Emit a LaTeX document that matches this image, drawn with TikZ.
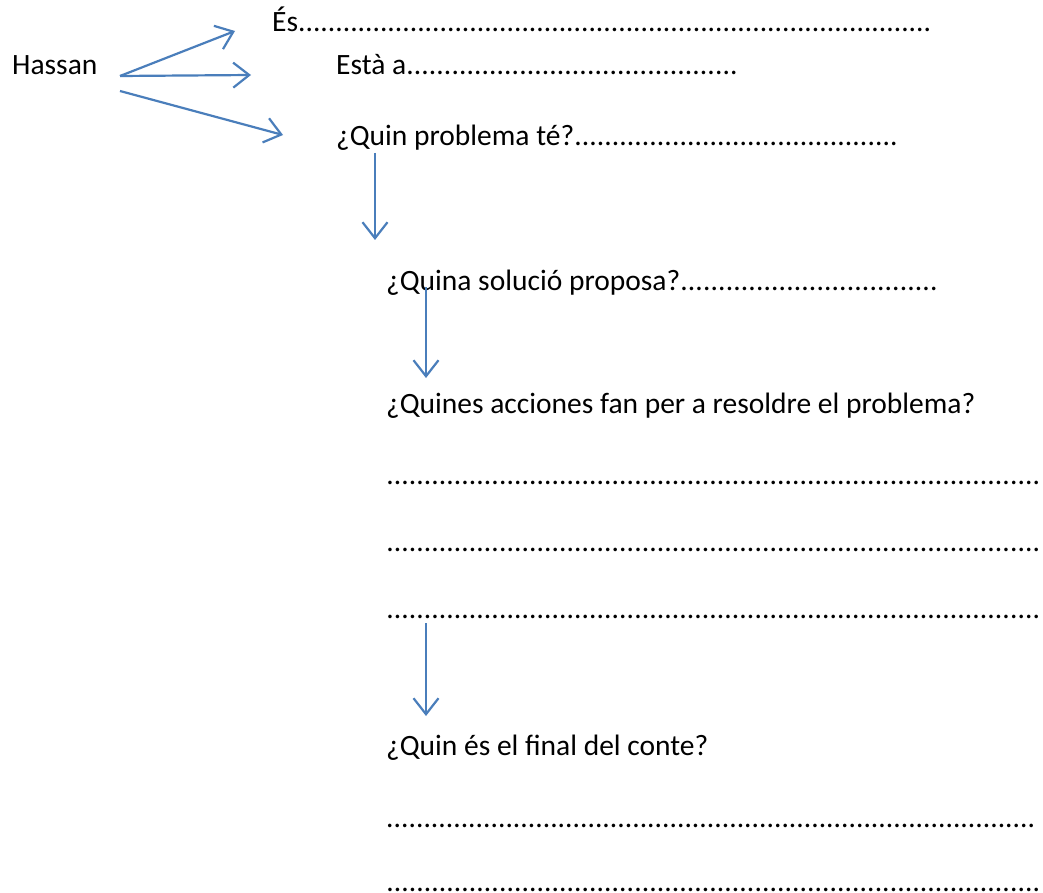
\documentclass[tikz,border=0pt]{standalone}
\usepackage{fontspec}
\setmainfont{Carlito}
\usetikzlibrary{arrows.meta}
\definecolor{arrowblue}{HTML}{4A7EBB}
\newcommand{\dotline}[2]{\hbox to #1{#2\xleaders\hbox{.}\hfill}}
\begin{document}
\begin{tikzpicture}[x=1pt,y=-1pt,
  txt/.style={anchor=base west,inner sep=0pt,font=\fontsize{29.5}{35}\selectfont},
  arr/.style={draw=arrowblue,line width=2.2pt,-{Straight Barb[length=16pt,width=25pt,line width=2.2pt]}}]
\useasboundingbox[fill=white] (0,0) rectangle (1043,893);
% texts
\node[txt] (hassan) at (12,75) {Hassan};
\node[txt] (es) at (272,32) {\dotline{660pt}{És}};
\node[txt] (esta) at (336,75) {\dotline{402pt}{Està a}};
\node[txt] (prob) at (336,146) {\dotline{562pt}{¿Quin problema té?}};
\node[txt] (sol) at (386,290) {\dotline{552pt}{¿Quina solució proposa?}};
\node[txt] (acc) at (386,413) {¿Quines acciones fan per a resoldre el problema?};
\node[txt] (l1) at (386,484) {\dotline{655pt}{}};
\node[txt] (l2) at (386,551) {\dotline{655pt}{}};
\node[txt] (l3) at (386,618) {\dotline{655pt}{}};
\node[txt] (fin) at (386,755) {¿Quin és el final del conte?};
\node[txt] (l4) at (386,827) {\dotline{650pt}{}};
\node[txt] (l5) at (386,891) {\dotline{655pt}{}};
% connector end points
\coordinate (h1) at (120,76);
\coordinate (h3) at (120,91);
\coordinate (e1) at (235,31);
\coordinate (e2) at (251,75);
\coordinate (e3) at (283,135);
\coordinate (p1) at (375,153);
\coordinate (p2) at (375,240);
\coordinate (s1) at (426,287);
\coordinate (s2) at (426,378);
\coordinate (a1) at (426,623);
\coordinate (a2) at (426,716);
\draw[arr] (h1) -- (e1);
\draw[arr] (h1) -- (e2);
\draw[arr] (h3) -- (e3);
\draw[arr] (p1) -- (p2);
\draw[arr] (s1) -- (s2);
\draw[arr] (a1) -- (a2);
\end{tikzpicture}
\end{document}
